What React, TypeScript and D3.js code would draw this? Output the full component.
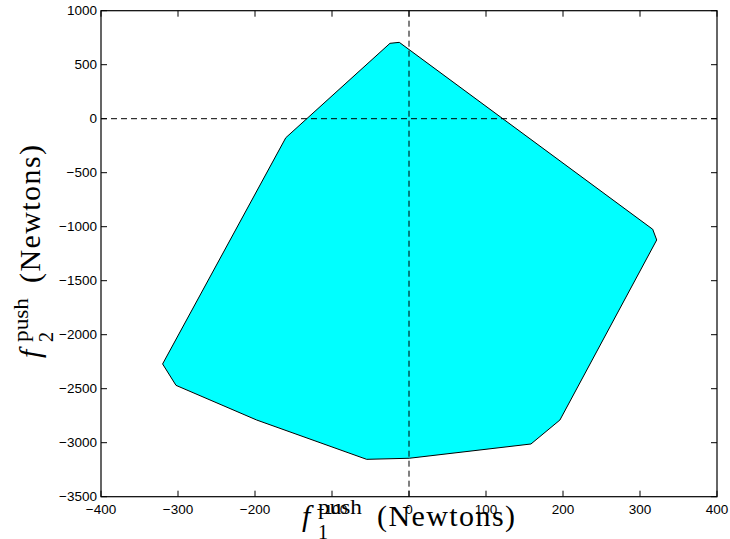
import React from "react";
import * as d3 from "d3";

// vertices of the feasible push-force region (clockwise from top)
const f1Push = [-12.6, 316.5, 321.7, 196, 158.4, 0.4, -55, -197.8, -302.6, -320, -160, -24.7];
const f2Push = [707, -1024, -1123, -2790, -3012, -3144, -3154, -2790, -2469, -2271, -176, 698];

const xTicks = [-400, -300, -200, -100, 0, 100, 200, 300, 400];
const yTicks = [1000, 500, 0, -500, -1000, -1500, -2000, -2500, -3000, -3500];

const W = 730;
const H = 539;
const margin = { left: 101, right: 13, top: 10.7, bottom: 42.3 };

const fmt = (v: number) => (v < 0 ? "\u2212" + Math.abs(v) : String(v));

const App = () => {
  const x = d3.scaleLinear().domain([-400, 400]).range([margin.left, W - margin.right]);
  const y = d3.scaleLinear().domain([-3500, 1000]).range([H - margin.bottom, margin.top]);

  const pts: [number, number][] = f1Push.map((d, i) => [d, f2Push[i]]);
  const line = d3
    .line<[number, number]>()
    .x((d) => x(d[0]))
    .y((d) => y(d[1]))
    .curve(d3.curveLinearClosed);

  const x0 = x.range()[0];
  const x1 = x.range()[1];
  const y0 = y.range()[0];
  const y1 = y.range()[1];
  const tickLen = 6;
  const tickFont = "'Liberation Sans', Arial, Helvetica, sans-serif";
  const serif = "'Liberation Serif', 'Times New Roman', serif";

  // axis label pieces: italic f, sub/superscript, then "(Newtons)"
  const label = (sub: string) => (
    <>
      <text x={0} y={0} fontFamily={serif} fontStyle="italic" fontSize={30}>f</text>
      <text x={16} y={-12} fontFamily={serif} fontSize={21} textLength={44} lengthAdjust="spacingAndGlyphs">push</text>
      <text x={16} y={13} fontFamily={serif} fontSize={20}>{sub}</text>
      <text x={75} y={0} fontFamily={serif} fontSize={30} textLength={138} lengthAdjust="spacing">(Newtons)</text>
    </>
  );

  return (
    <svg width={W} height={H} style={{ position: "absolute", left: 0, top: 0 }}>
      <rect x={0} y={0} width={W} height={H} fill="#fff" />

      <path d={line(pts) || ""} fill="#00ffff" stroke="#000" strokeWidth={1} strokeLinejoin="miter" />

      {/* zero lines */}
      <line x1={x0} x2={x1} y1={y(0)} y2={y(0)} stroke="#000" strokeWidth={1} strokeDasharray="6,4" />
      <line x1={x(0)} x2={x(0)} y1={y1} y2={y0} stroke="#000" strokeWidth={1} strokeDasharray="6,4" />

      {/* ticks, inward on all sides */}
      {xTicks.map((t) => (
        <g key={"xt" + t}>
          <line x1={x(t)} x2={x(t)} y1={y0} y2={y0 - tickLen} stroke="#000" />
          <line x1={x(t)} x2={x(t)} y1={y1} y2={y1 + tickLen} stroke="#000" />
          <text x={x(t)} y={y0 + 17} textAnchor="middle" fontFamily={tickFont} fontSize={13.5}>
            {fmt(t)}
          </text>
        </g>
      ))}
      {yTicks.map((t) => (
        <g key={"yt" + t}>
          <line x1={x0} x2={x0 + tickLen} y1={y(t)} y2={y(t)} stroke="#000" />
          <line x1={x1} x2={x1 - tickLen} y1={y(t)} y2={y(t)} stroke="#000" />
          <text x={x0 - 4} y={y(t)} dy="0.35em" textAnchor="end" fontFamily={tickFont} fontSize={13.5}>
            {fmt(t)}
          </text>
        </g>
      ))}

      <rect x={x0} y={y1} width={x1 - x0} height={y0 - y1} fill="none" stroke="#000" strokeWidth={1.2} />

      <g transform="translate(302,526)">{label("1")}</g>
      <g transform="translate(40,358) rotate(-90)">{label("2")}</g>
    </svg>
  );
};

export default App;
